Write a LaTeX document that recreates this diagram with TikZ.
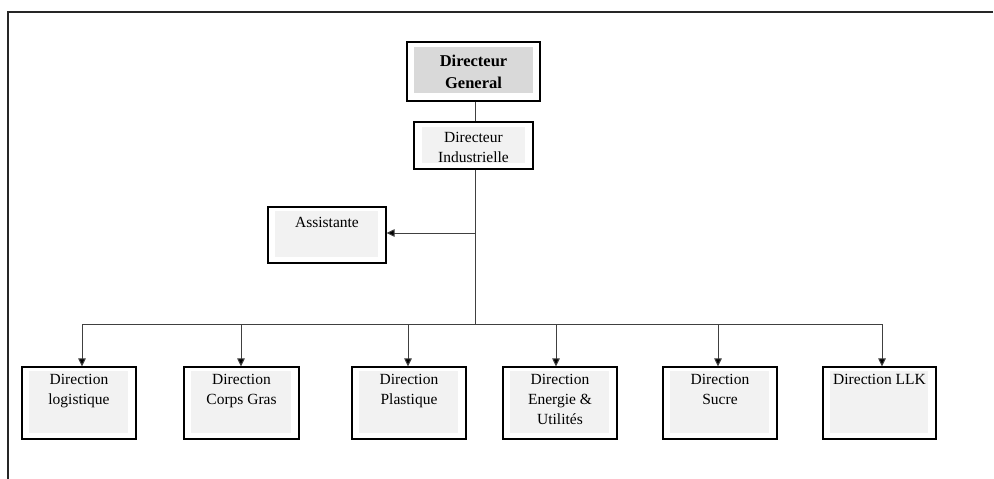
\documentclass[tikz,border=0pt]{standalone}
\usepackage{fontspec}
\setmainfont{Liberation Serif}
\usetikzlibrary{arrows.meta}
\definecolor{panel}{HTML}{F2F2F2}
\definecolor{panelhead}{HTML}{D9D9D9}
\definecolor{wire}{HTML}{404040}
\tikzset{
  unit/.style={draw=black, line width=1.1pt, fill=white, inner sep=0pt},
  lbl/.style={anchor=north, align=center, inner sep=0pt, font=\fontsize{15.5}{20}\selectfont},
  headlbl/.style={anchor=north, align=center, inner sep=0pt, font=\fontsize{16.5}{22}\selectfont\bfseries},
  wirestyle/.style={draw=wire, line width=1pt},
  feed/.style={wirestyle, -{Triangle[length=8pt,width=7.5pt,fill=black]}},
}
\begin{document}
\begin{tikzpicture}[x=1pt,y=-1pt]
\useasboundingbox (0,0) rectangle (994,479);
% outer frame (top and left sides)
\draw[line width=1.8pt, draw=black!85] (993,12) -- (8,12) -- (8,479);

% boxes
\node[unit, minimum width=133pt, minimum height=59pt] (dg) at (473.5,71.5) {};
\node[unit, minimum width=119pt, minimum height=47pt] (di) at (473.5,145.5) {};
\node[unit, minimum width=118pt, minimum height=56pt] (ass) at (327,235) {};
\foreach \n/\x/\w in {d1/79/114, d2/241.5/115, d3/409/114, d4/560/114, d5/720/114, d6/879.5/113}
  \node[unit, minimum width=\w pt, minimum height=72pt] (\n) at (\x,403) {};

% shaded panels inside the boxes
\fill[panelhead] ([shift={(8,6)}]dg.north west) rectangle ([shift={(-8,-9)}]dg.south east);
\fill[panel] ([shift={(9,6)}]di.north west) rectangle ([shift={(-9,-7)}]di.south east);
\fill[panel] ([shift={(8,5)}]ass.north west) rectangle ([shift={(-9,-7)}]ass.south east);
\foreach \n in {d1,d2,d3,d4,d5,d6}
  \fill[panel] ([shift={(8,5)}]\n.north west) rectangle ([shift={(-9,-7)}]\n.south east);

% labels
\node[headlbl] (tdg) at ([shift={(0,13)}]dg.north) {Directeur\\General};
\node[lbl] (tdi) at ([shift={(0,11)}]di.north) {Directeur\\Industrielle};
\node[lbl] (tass) at ([shift={(0,11)}]ass.north) {Assistante};
\node[lbl] (t1) at ([shift={(0,8)}]d1.north) {Direction\\logistique};
\node[lbl] (t2) at ([shift={(0,8)}]d2.north) {Direction\\Corps Gras};
\node[lbl] (t3) at ([shift={(0,8)}]d3.north) {Direction\\Plastique};
\node[lbl] (t4) at ([shift={(0,8)}]d4.north) {Direction\\Energie \&\\Utilités};
\node[lbl] (t5) at ([shift={(0,8)}]d5.north) {Direction\\Sucre};
\node[lbl] (t6) at ([shift={(0,8)}]d6.north) {Direction LLK};

% connectors
\coordinate (top) at (475,101);
\coordinate (trunk) at (475,169);
\coordinate (tap) at (475,233);
\coordinate (hub) at (475,324);
\draw[wirestyle] (top |- dg.south) -- (top |- di.north);
\draw[wirestyle] (trunk |- di.south) -- (hub);
\draw[feed] (tap) -- (ass.east |- tap);
\coordinate (b1) at (82,324);
\coordinate (b2) at (241,324);
\coordinate (b3) at (408,324);
\coordinate (b4) at (556,324);
\coordinate (b5) at (718,324);
\coordinate (b6) at (882,324);
\draw[wirestyle] (b1) -- (b6);
\foreach \b/\n in {b1/d1, b2/d2, b3/d3, b4/d4, b5/d5, b6/d6}
  \draw[feed] (\b) -- (\b |- \n.north);
\end{tikzpicture}
\end{document}
